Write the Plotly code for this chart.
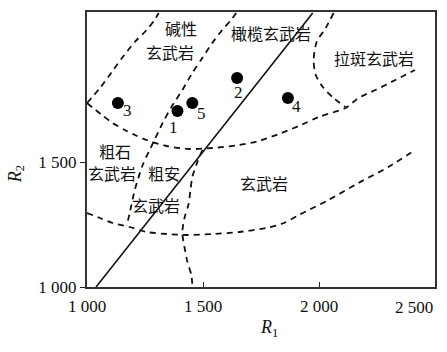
import plotly.graph_objects as go

# ---- data ----
sample_ids = ["1", "2", "3", "4", "5"]
sample_r1 = [1390, 1647, 1133, 1866, 1454]
sample_r2 = [1704, 1836, 1736, 1756, 1736]

divider_r1 = [1039, 1973]
divider_r2 = [1000, 2096]

curve_a_r1 = [1000, 1056, 1107, 1154, 1206, 1257, 1291, 1309]
curve_a_r2 = [1736, 1796, 1860, 1920, 1980, 2028, 2068, 2096]

curve_b_r1 = [1000, 1064, 1111, 1163, 1206, 1257, 1343, 1441, 1540, 1656, 1741, 1827, 1913, 1999, 2114, 2170, 2243, 2329, 2414]
curve_b_r2 = [1736, 1688, 1656, 1628, 1608, 1588, 1564, 1552, 1556, 1568, 1584, 1612, 1644, 1680, 1716, 1756, 1788, 1828, 1868]

curve_c_r1 = [2063, 2029, 1990, 1977, 1986, 2020, 2063, 2114]
curve_c_r2 = [2096, 2036, 1980, 1908, 1848, 1796, 1756, 1720]

curve_d_r1 = [1643, 1621, 1583, 1540, 1497, 1454, 1411, 1364, 1326, 1291, 1270, 1240, 1206, 1184, 1171]
curve_d_r2 = [2096, 2068, 2028, 1976, 1916, 1856, 1788, 1720, 1656, 1588, 1548, 1488, 1388, 1296, 1244]

curve_e_r1 = [1000, 1056, 1111, 1184, 1257, 1343, 1429, 1540, 1656, 1771, 1849, 1913, 2041, 2170, 2299, 2414]
curve_e_r2 = [1296, 1276, 1256, 1240, 1220, 1212, 1208, 1212, 1220, 1236, 1256, 1288, 1348, 1416, 1480, 1548]

curve_f_r1 = [1497, 1471, 1454, 1446, 1437, 1420, 1411, 1420, 1433, 1450, 1454]
curve_f_r2 = [1548, 1488, 1440, 1388, 1328, 1276, 1216, 1160, 1100, 1048, 1000]

region_names = ["碱性", "玄武岩", "橄榄玄武岩", "拉斑玄武岩", "粗石", "玄武岩", "粗安", "玄武岩", "玄武岩"]
region_r1 = [1407, 1356, 1794, 2238, 1120, 1107, 1330, 1296, 1764]
region_r2 = [2036, 1940, 2016, 1916, 1544, 1456, 1456, 1328, 1416]

x_ticks = [1000, 1500, 2000, 2500]
x_tick_text = ["1 000", "1 500", "2 000", "2 500"]
y_ticks = [1000, 1500]
y_tick_text = ["1 000", "1 500"]

SERIF = "Liberation Serif"
CJK = "Noto Sans CJK SC"

fig = go.Figure()

dash_style = dict(color="#111", width=1.8, dash="6px,5px")
for cx, cy in [(curve_a_r1, curve_a_r2), (curve_b_r1, curve_b_r2), (curve_c_r1, curve_c_r2),
               (curve_d_r1, curve_d_r2), (curve_e_r1, curve_e_r2), (curve_f_r1, curve_f_r2)]:
    fig.add_trace(go.Scatter(x=cx, y=cy, mode="lines", line=dict(shape="spline", smoothing=0.8, **dash_style),
                             hoverinfo="skip", showlegend=False))

fig.add_trace(go.Scatter(x=divider_r1, y=divider_r2, mode="lines", line=dict(color="#111", width=1.6),
                         showlegend=False))

fig.add_trace(go.Scatter(x=sample_r1, y=sample_r2, mode="markers",
                         marker=dict(color="black", size=12), showlegend=False))

label_shift = {"1": (-4, -16), "2": (1, -14), "3": (10, -7), "4": (9, -8), "5": (9, -10)}
for sid, sx, sy in zip(sample_ids, sample_r1, sample_r2):
    dx, dy = label_shift[sid]
    fig.add_annotation(x=sx, y=sy, text=sid, showarrow=False, xshift=dx, yshift=dy,
                       font=dict(family=SERIF, size=17, color="#111"))

for name, rx, ry in zip(region_names, region_r1, region_r2):
    fig.add_annotation(x=rx, y=ry, text=name, showarrow=False,
                       font=dict(family=CJK, size=16, color="#111"))

fig.add_annotation(x=x_ticks[-1], y=0, xref="x", yref="paper", text=x_tick_text[-1], showarrow=False,
                   xanchor="right", yanchor="top", yshift=-9, font=dict(family=SERIF, size=17, color="#111"))

fig.add_annotation(x=0.523, y=-0.2, xref="paper", yref="paper", text="<i>R</i><sub>1</sub>",
                   showarrow=False, font=dict(family=SERIF, size=18, color="#111"))
fig.add_annotation(x=-0.243, y=0.41, xref="paper", yref="paper", text="<i>R</i><sub>2</sub>",
                   showarrow=False, textangle=-90, font=dict(family=SERIF, size=18, color="#111"))

fig.update_layout(
    width=447, height=352,
    margin=dict(l=87, r=10, t=12, b=65),
    paper_bgcolor="white", plot_bgcolor="white",
    xaxis=dict(range=[1000, 2500], tickvals=x_ticks[:-1], ticktext=x_tick_text[:-1],
               ticks="inside", ticklen=5, tickcolor="#222", showgrid=False, zeroline=False,
               showline=True, linecolor="#333", linewidth=2, mirror=True, ticklabelstandoff=3,
               tickfont=dict(family=SERIF, size=17, color="#111")),
    yaxis=dict(range=[1000, 2100], tickvals=y_ticks, ticktext=y_tick_text,
               ticks="outside", ticklen=5, tickcolor="#222", showgrid=False, zeroline=False,
               showline=True, linecolor="#333", linewidth=2, mirror=True,
               tickfont=dict(family=SERIF, size=17, color="#111")),
)

fig.write_html("out.html")
